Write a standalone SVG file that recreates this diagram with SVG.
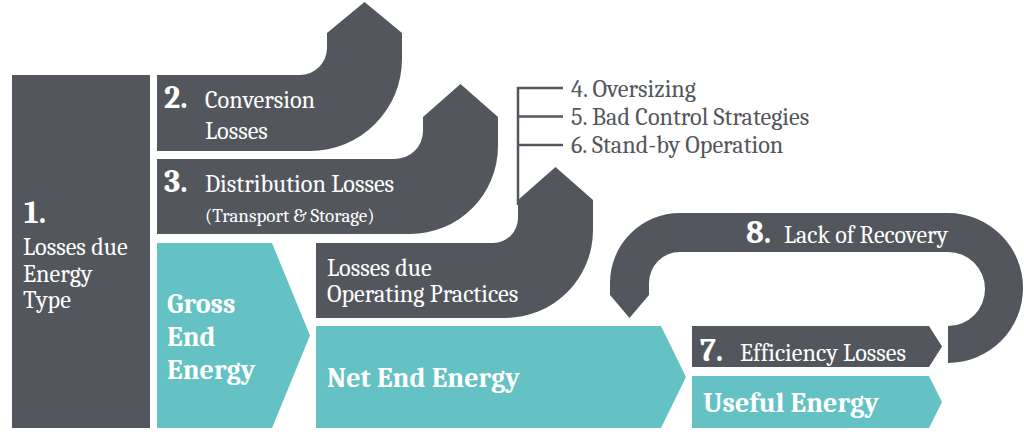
<svg xmlns="http://www.w3.org/2000/svg" width="1024" height="435" viewBox="0 0 1024 435">
<style>
.g{fill:#53575d}
.t{fill:#64c1c4}
text{font-family:Caladea,Cambria,'Noto Serif',Tinos,'Liberation Serif','DejaVu Serif',FreeSerif,'Times New Roman',Georgia,serif}
.w{fill:#ffffff;font-size:24.2px}
.wb{fill:#ffffff;font-weight:bold;font-size:32px}
.wt{fill:#ffffff;font-weight:bold;font-size:28px}
.d{fill:#53575d;font-size:24.2px}
.ln{stroke:#53575d;stroke-width:2.5;fill:none}
</style>
<rect width="1024" height="435" fill="#ffffff"/>
<g id="connectors">
<path class="ln" d="M518,87 V205 M517,88 H563 M517,116.5 H563 M517,145 H563"/>
</g>
<g id="n1">
<rect class="g" x="12" y="75" width="138" height="353"/>
<text class="wb" x="24" y="223">1.</text>
<text class="w" x="23" y="255">Losses due</text>
<text class="w" x="23" y="282">Energy</text>
<text class="w" x="23" y="308">Type</text>
</g>
<g id="n2">
<path class="g" d="M157,75 H300 A27,27 0 0 0 327,48 V33 L364.5,2 L402,33 V59 A92,92 0 0 1 310,151 H157 Z"/>
<text class="wb" x="164" y="108">2.</text>
<text class="w" x="205" y="108">Conversion</text>
<text class="w" x="205" y="139">Losses</text>
</g>
<g id="n3">
<path class="g" d="M157,159 H395 A28,28 0 0 0 423,131 V117 L460.5,84 L498,117 V146 A88,88 0 0 1 410,234 H157 Z"/>
<text class="wb" x="164" y="192">3.</text>
<text class="w" x="205" y="192">Distribution Losses</text>
<text class="w" x="205" y="222" style="font-size:19px">(Transport &amp; Storage)</text>
</g>
<g id="n4">
<path class="g" d="M316,243 H493 A25,25 0 0 0 518,218 V200 L555.5,167 L593,200 V230 A88,88 0 0 1 505,318 H316 Z"/>
<text class="w" x="327" y="276">Losses due</text>
<text class="w" x="327" y="302">Operating Practices</text>
</g>
<g id="list">
<text class="d" x="571" y="97">4. Oversizing</text>
<text class="d" x="571" y="125">5. Bad Control Strategies</text>
<text class="d" x="571" y="153">6. Stand-by Operation</text>
</g>
<g id="gross">
<polygon class="t" points="157,243 272,243 310,335.5 272,428 157,428"/>
<text class="wt" x="167" y="313">Gross</text>
<text class="wt" x="167" y="346">End</text>
<text class="wt" x="167" y="379">Energy</text>
</g>
<g id="net">
<polygon class="t" points="316,326 661,326 686,377 661,428 316,428"/>
<text class="wt" x="327" y="387">Net End Energy</text>
</g>
<g id="eff">
<polygon class="g" points="692,326 929,326 942,346.5 929,367 692,367"/>
<text class="wb" x="700" y="361">7.</text>
<text class="w" x="740" y="361">Efficiency Losses</text>
</g>
<g id="useful">
<polygon class="t" points="692,376 929,376 942,402 929,428 692,428"/>
<text class="wt" x="703" y="412">Useful Energy</text>
</g>
<g id="recovery">
<path class="g" d="M948,363 A75,75 0 0 0 948,213 H680 A70,70 0 0 0 610,283 V295 L629.5,318 L649,295 V283 A31,31 0 0 1 680,252 H948 A37,37 0 0 1 948,326 Z"/>
<text class="wb" x="746" y="243">8.</text>
<text class="w" x="784" y="243" style="font-size:24px">Lack of Recovery</text>
</g>
</svg>
